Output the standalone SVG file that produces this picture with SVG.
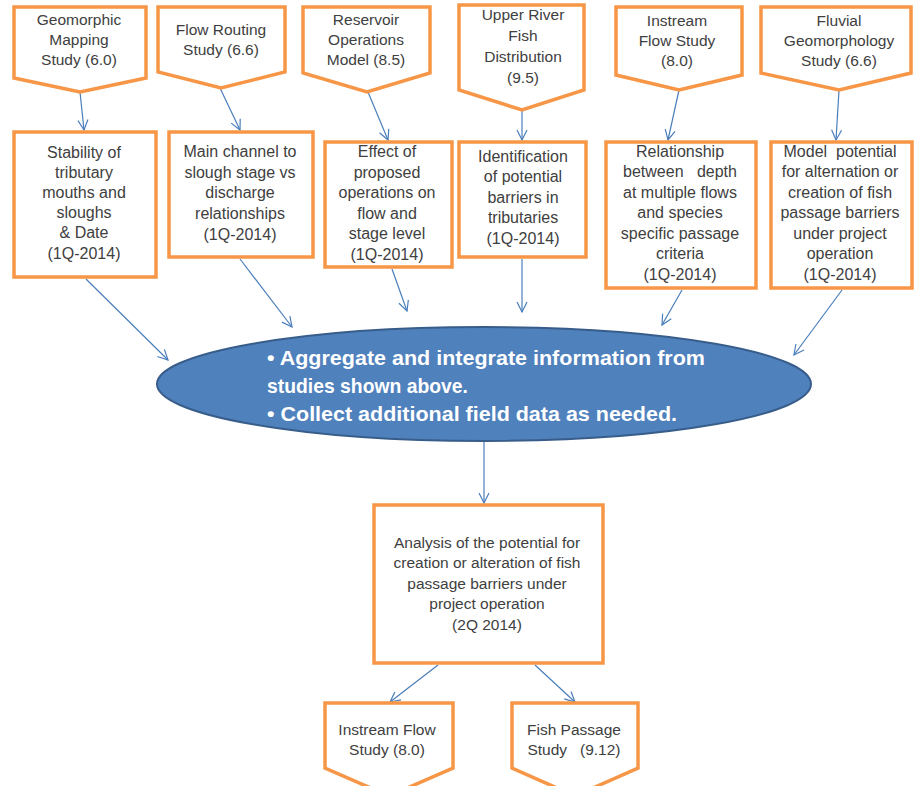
<svg xmlns="http://www.w3.org/2000/svg" width="914" height="786" viewBox="0 0 914 786">
<defs>
<marker id="arr" markerUnits="userSpaceOnUse" markerWidth="14" markerHeight="14" refX="11" refY="6" orient="auto">
<path d="M1,1 L11,6 L1,11" fill="none" stroke="#4A7EBB" stroke-width="1.2"/>
</marker>
<style>
.shape{fill:#fff;stroke:#F79646;stroke-width:3.5;stroke-linejoin:miter}
.t{font-family:"Liberation Sans",Arial,sans-serif;font-size:15.5px;fill:#404040;text-anchor:middle}
.b{font-size:16px}
.a{font-size:15.5px}
.conn line{stroke:#4A7EBB;stroke-width:1.2;marker-end:url(#arr)}
.et{font-family:"Liberation Sans",Arial,sans-serif;font-size:21px;font-weight:bold;fill:#fff}
</style>
</defs>
<rect width="914" height="786" fill="#fff"/>

<g id="conn" class="conn">
<line x1="80" y1="92" x2="84" y2="130"/>
<line x1="220" y1="88" x2="240" y2="130"/>
<line x1="368" y1="92" x2="388" y2="140"/>
<line x1="522" y1="110" x2="522" y2="140"/>
<line x1="679" y1="90" x2="668" y2="140"/>
<line x1="839" y1="90" x2="836" y2="140"/>
<line x1="86" y1="279" x2="168" y2="360"/>
<line x1="240" y1="259" x2="292" y2="327"/>
<line x1="392" y1="269" x2="407" y2="311"/>
<line x1="522" y1="259" x2="522" y2="312"/>
<line x1="682" y1="290" x2="662" y2="325"/>
<line x1="842" y1="290" x2="794" y2="355"/>
<line x1="484" y1="442" x2="484" y2="503"/>
<line x1="438" y1="665" x2="390" y2="702"/>
<line x1="535" y1="665" x2="575" y2="702"/>
</g>

<g id="n1"><polygon class="shape" points="14,7 146,7 146,78 80,92 14,78"/>
<text class="t" x="79" y="25">Geomorphic</text><text class="t" x="79" y="45">Mapping</text><text class="t" x="79" y="65">Study  (6.0)</text></g>
<g id="n2"><polygon class="shape" points="158,7 285,7 285,72 221,88 158,72"/>
<text class="t" x="221" y="35">Flow Routing</text><text class="t" x="221" y="55">Study (6.6)</text></g>
<g id="n3"><polygon class="shape" points="303,7 430,7 430,73 367,92 303,73"/>
<text class="t" x="366" y="25">Reservoir</text><text class="t" x="366" y="45">Operations</text><text class="t" x="366" y="65">Model (8.5)</text></g>
<g id="n4"><polygon class="shape" points="459,5 584,5 584,90 522,110 459,90"/>
<text class="t" x="523" y="20">Upper River</text><text class="t" x="523" y="41">Fish</text><text class="t" x="523" y="62">Distribution</text><text class="t" x="523" y="83">(9.5)</text></g>
<g id="n5"><polygon class="shape" points="616,7 742,7 742,75 679,90 616,75"/>
<text class="t" x="677" y="26">Instream</text><text class="t" x="677" y="46">Flow Study</text><text class="t" x="677" y="66">(8.0)</text></g>
<g id="n6"><polygon class="shape" points="761,7 911,7 911,73 839,90 761,73"/>
<text class="t" x="839" y="26">Fluvial</text><text class="t" x="839" y="46">Geomorphology</text><text class="t" x="839" y="66">Study (6.6)</text></g>

<g id="b1"><rect class="shape" x="14" y="132" width="142" height="145"/>
<text class="t b" x="84" y="158">Stability of</text><text class="t b" x="84" y="178">tributary</text><text class="t b" x="84" y="198">mouths and</text><text class="t b" x="84" y="218">sloughs</text><text class="t b" x="84" y="238">&amp; Date</text><text class="t b" x="84" y="259">(1Q-2014)</text></g>
<g id="b2"><rect class="shape" x="169" y="132" width="144" height="125"/>
<text class="t b" x="240" y="157">Main channel to</text><text class="t b" x="240" y="178">slough stage vs</text><text class="t b" x="240" y="198">discharge</text><text class="t b" x="240" y="219">relationships</text><text class="t b" x="240" y="240">(1Q-2014)</text></g>
<g id="b3"><rect class="shape" x="325" y="142" width="127" height="125"/>
<text class="t b" x="387" y="157">Effect of</text><text class="t b" x="387" y="178">proposed</text><text class="t b" x="387" y="198">operations on</text><text class="t b" x="387" y="219">flow and</text><text class="t b" x="387" y="239">stage level</text><text class="t b" x="387" y="260">(1Q-2014)</text></g>
<g id="b4"><rect class="shape" x="459" y="142" width="127" height="115"/>
<text class="t b" x="523" y="162">Identification</text><text class="t b" x="523" y="182">of potential</text><text class="t b" x="523" y="203">barriers in</text><text class="t b" x="523" y="223">tributaries</text><text class="t b" x="523" y="244">(1Q-2014)</text></g>
<g id="b5"><rect class="shape" x="606" y="142" width="150" height="146"/>
<text class="t b" x="680" y="157">Relationship</text><text class="t b" x="680" y="177" xml:space="preserve">between   depth</text><text class="t b" x="680" y="198">at multiple flows</text><text class="t b" x="680" y="218">and species</text><text class="t b" x="680" y="239">specific passage</text><text class="t b" x="680" y="259">criteria</text><text class="t b" x="680" y="280">(1Q-2014)</text></g>
<g id="b6"><rect class="shape" x="771" y="142" width="141" height="146"/>
<text class="t b" x="840" y="157" xml:space="preserve">Model  potential</text><text class="t b" x="840" y="177">for alternation or</text><text class="t b" x="840" y="198">creation of fish</text><text class="t b" x="840" y="218">passage barriers</text><text class="t b" x="840" y="239">under project</text><text class="t b" x="840" y="259">operation</text><text class="t b" x="840" y="280">(1Q-2014)</text></g>

<g id="ellipse"><ellipse cx="484" cy="384" rx="327" ry="57" fill="#4F81BD" stroke="#385D8A" stroke-width="2"/>
<text class="et" x="267" y="365" textLength="438" lengthAdjust="spacingAndGlyphs">• Aggregate and integrate information from</text>
<text class="et" x="267" y="393" textLength="201" lengthAdjust="spacingAndGlyphs">studies shown above.</text>
<text class="et" x="267" y="421" textLength="410" lengthAdjust="spacingAndGlyphs">• Collect additional field data as needed.</text></g>

<g id="analysis"><rect class="shape" x="374" y="505" width="229" height="158"/>
<text class="t a" x="487" y="548">Analysis of the potential for</text><text class="t a" x="487" y="568">creation or alteration of fish</text><text class="t a" x="487" y="589">passage barriers under</text><text class="t a" x="487" y="609">project operation</text><text class="t a" x="487" y="630">(2Q 2014)</text></g>

<g id="o1"><polygon class="shape" points="325,703 453,703 453,768 389,796 325,768"/>
<text class="t" x="387" y="735">Instream Flow</text><text class="t" x="387" y="755">Study  (8.0)</text></g>
<g id="o2"><polygon class="shape" points="512,703 638,703 638,768 575,796 512,768"/>
<text class="t" x="574" y="735">Fish Passage</text><text class="t" x="574" y="755" xml:space="preserve">Study   (9.12)</text></g>
</svg>
